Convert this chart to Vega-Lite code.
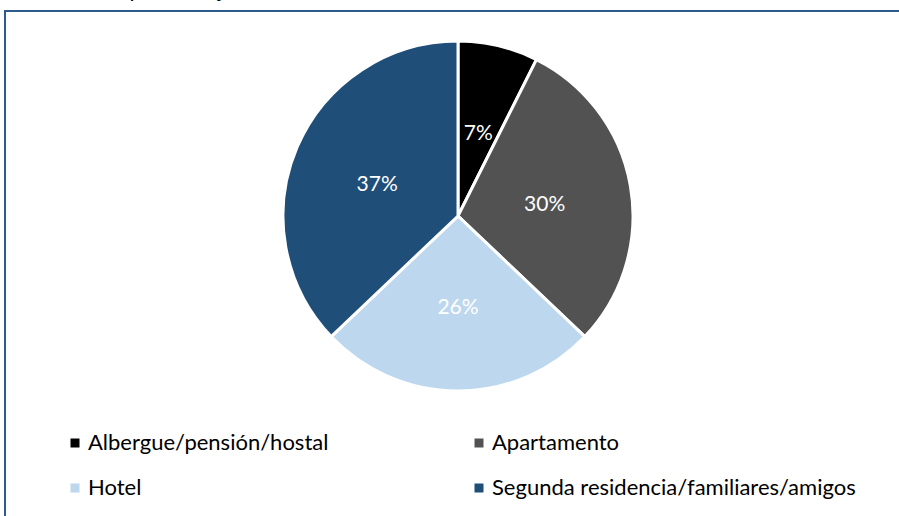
{
  "$schema": "https://vega.github.io/schema/vega-lite/v6.json",
  "autosize": "none",
  "width": 1000,
  "height": 600,
  "padding": {"left": 5, "top": 11, "right": 0, "bottom": 0},
  "background": "white",
  "view": {"stroke": "#2E5C8A", "strokeWidth": 2, "fill": "white", "strokeDash": [1000, 1600, 600]},
  "title": {
    "text": "Gráfico 12. Tipo de alojamiento.",
    "anchor": "start",
    "frame": "group",
    "offset": 4,
    "baseline": "alphabetic",
    "dx": -5,
    "dy": 12,
    "font": "Lato",
    "fontSize": 22,
    "fontWeight": "normal",
    "color": "#000000"
  },
  "config": {
    "font": "Lato"
  },
  "data": {
    "values": [
      {"tipo": "Albergue/pensión/hostal", "pct": 7.4, "etiqueta": "7%", "orden": 1},
      {"tipo": "Apartamento", "pct": 29.7, "etiqueta": "30%", "orden": 2},
      {"tipo": "Hotel", "pct": 25.8, "etiqueta": "26%", "orden": 3},
      {"tipo": "Segunda residencia/familiares/amigos", "pct": 37.1, "etiqueta": "37%", "orden": 4}
    ]
  },
  "encoding": {
    "theta": {"field": "pct", "type": "quantitative", "stack": true},
    "order": {"field": "orden", "type": "quantitative"},
    "color": {
      "field": "tipo",
      "type": "nominal",
      "scale": {
        "domain": ["Albergue/pensión/hostal", "Apartamento", "Hotel", "Segunda residencia/familiares/amigos"],
        "range": ["#000000", "#525252", "#BDD7EE", "#1F4E79"]
      },
      "legend": {
        "title": null,
        "orient": "none",
        "legendX": 59,
        "legendY": 421,
        "padding": 0,
        "direction": "horizontal",
        "columns": 2,
        "columnPadding": 139,
        "rowPadding": 23,
        "symbolType": "square",
        "symbolSize": 81,
        "symbolStrokeWidth": 0,
        "labelFont": "Lato",
        "labelFontSize": 22,
        "labelColor": "#000000",
        "labelOffset": 2,
        "labelLimit": 600
      }
    }
  },
  "layer": [
    {
      "mark": {"type": "arc", "outerRadius": 175, "x": 453, "y": 205, "stroke": "white", "strokeWidth": 3}
    },
    {
      "mark": {"type": "text", "radius": 88, "x": 453, "y": 205, "dy": 4, "font": "Lato", "fontSize": 21, "fill": "white"},
      "encoding": {
        "text": {"field": "etiqueta", "type": "nominal"},
        "color": {"value": "white"}
      }
    }
  ]
}
